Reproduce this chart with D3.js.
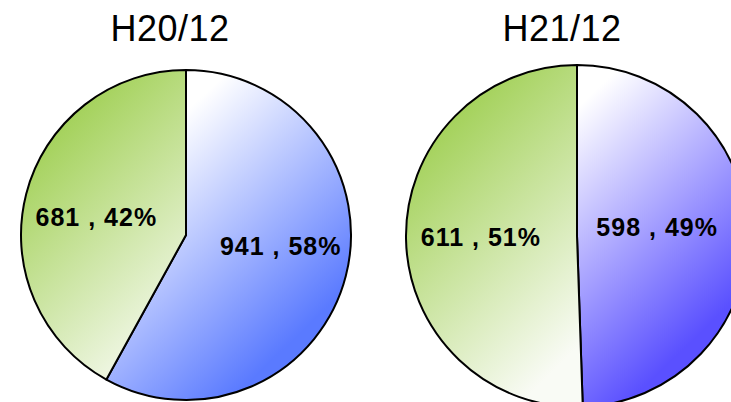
<!DOCTYPE html>
<html>
<head>
<meta charset="utf-8">
<script src="https://cdn.jsdelivr.net/npm/d3@7"></script>
<style>
  body { margin: 0; background: #fff; }
  svg { display: block; }
</style>
</head>
<body>
<div id="chart"></div>
<script>
// Data
const titles = ['H20/12', 'H21/12']
const categories = ['blue', 'green']
const valuesH20 = [941, 681]
const percentsH20 = [58, 42]
const valuesH21 = [598, 611]
const percentsH21 = [49, 51]

const width = 731,
  height = 402

// nudge order follows categories: [blue, green]
const pies = [
  { title: titles[0], values: valuesH20, percents: percentsH20, cx: 186, cy: 235, r: 165, blue: '#5a7aff', titleX: 170,
    nudge: [[2, -13], [3, 6]] },
  { title: titles[1], values: valuesH21, percents: percentsH21, cx: 577, cy: 236, r: 171, blue: '#5a50ff', titleX: 562,
    nudge: [[-19, -7], [3, -1]] }
]

const svg = d3
  .select('#chart')
  .append('svg')
  .attr('width', width)
  .attr('height', height)

const defs = svg.append('defs')

const pie = d3
  .pie()
  .sort(null)
  .value(d => d.value)

pies.forEach((p, i) => {
  // gradients per pie (coords relative to pie centre, since paths sit in a translated group)
  const gGreen = defs
    .append('linearGradient')
    .attr('id', 'green' + i)
    .attr('gradientUnits', 'userSpaceOnUse')
    .attr('x1', -p.r)
    .attr('y1', -p.r * 0.45)
    .attr('x2', p.r * 0.05)
    .attr('y2', p.r * 0.6)
  gGreen.append('stop').attr('offset', '0%').attr('stop-color', '#a3d159')
  gGreen.append('stop').attr('offset', '100%').attr('stop-color', '#f9fbf5')

  const gBlue = defs
    .append('linearGradient')
    .attr('id', 'blue' + i)
    .attr('gradientUnits', 'userSpaceOnUse')
    .attr('x1', -p.r * 0.05)
    .attr('y1', -p.r * 0.7)
    .attr('x2', p.r * 0.95)
    .attr('y2', p.r * 0.35)
  gBlue.append('stop').attr('offset', '0%').attr('stop-color', '#ffffff')
  gBlue.append('stop').attr('offset', '100%').attr('stop-color', p.blue)

  const data = categories.map((c, k) => ({ cat: c, value: p.values[k], pct: p.percents[k] }))
  const arcs = pie(data)

  const arc = d3.arc().innerRadius(0).outerRadius(p.r)
  const labelArc = d3.arc().innerRadius(p.r * 0.58).outerRadius(p.r * 0.58)

  const g = svg.append('g').attr('transform', 'translate(' + p.cx + ',' + p.cy + ')')

  g.selectAll('path')
    .data(arcs)
    .enter()
    .append('path')
    .attr('d', arc)
    .attr('fill', d => 'url(#' + d.data.cat + i + ')')
    .attr('stroke', '#000')
    .attr('stroke-width', 2)
    .attr('stroke-linejoin', 'round')

  g.selectAll('text.label')
    .data(arcs)
    .enter()
    .append('text')
    .attr('class', 'label')
    .attr('transform', (d, k) => {
      const c = labelArc.centroid(d)
      return 'translate(' + (c[0] + p.nudge[k][0]) + ',' + (c[1] + p.nudge[k][1]) + ')'
    })
    .attr('text-anchor', 'middle')
    .attr('dy', '0.36em')
    .style('font-family', 'Liberation Sans, Arial, sans-serif')
    .style('font-weight', 'bold')
    .style('font-size', '25px')
    .style('letter-spacing', '1px')
    .attr('fill', '#000')
    .text(d => d.data.value + ' , ' + d.data.pct + '%')

  svg
    .append('text')
    .attr('x', p.titleX)
    .attr('y', 41)
    .attr('text-anchor', 'middle')
    .style('font-family', 'Liberation Sans, Arial, sans-serif')
    .style('font-size', '36px')
    .style('letter-spacing', '0.5px')
    .attr('fill', '#000')
    .text(p.title)
})
</script>
</body>
</html>
